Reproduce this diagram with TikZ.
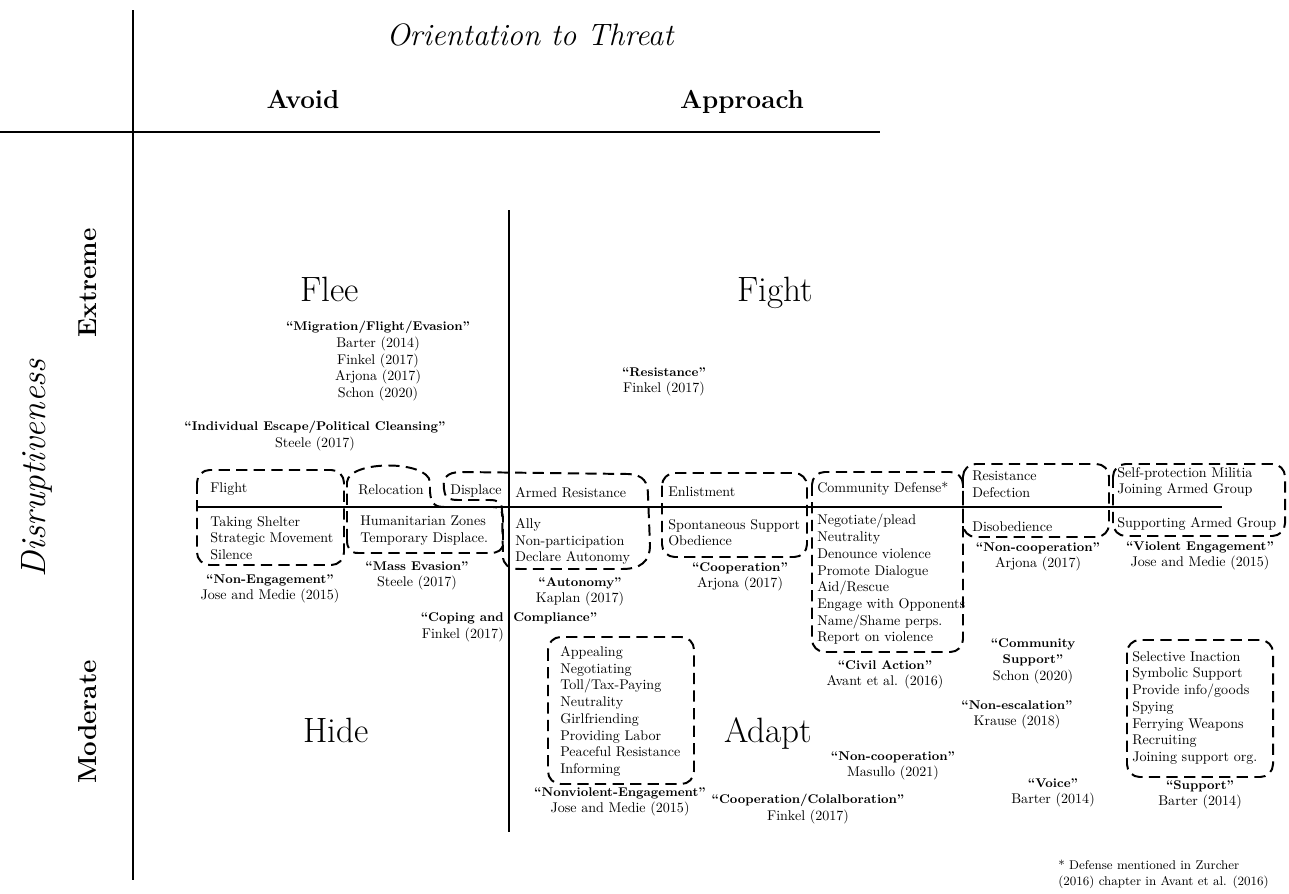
\documentclass[tikz,border=0pt]{standalone}
\newcommand{\bl}[1]{{\fontsize{9}{11.9}\selectfont\bfseries #1}}
\newcommand{\qlabel}[1]{\bl{“#1”}}
\begin{document}
\begin{tikzpicture}[
    x=0.025cm, y=-0.025cm,
    font=\fontsize{10}{11.9}\selectfont,
    % styles
    axis/.style={line width=1.5pt},
    split/.style={line width=0.8pt},
    dbox/.style={line width=1.4pt, dash pattern=on 8pt off 4.5pt, rounded corners=9pt},
    item/.style={align=left, anchor=north west, inner sep=0pt},
    cite/.style={align=center, anchor=north, inner sep=0pt},
    big/.style={font=\fontsize{25}{30}\selectfont, anchor=base, inner sep=0pt},
    head/.style={font=\fontsize{18.5}{22}\selectfont\bfseries, inner sep=0pt},
    axlabel/.style={font=\fontsize{22}{26}\selectfont\itshape, inner sep=0pt}
]
    \useasboundingbox (0,0) rectangle (1289,894);

    % ==========================================
    % AXES
    % ==========================================
    \coordinate (axT) at (133,10);
    \coordinate (axB) at (133,880);
    \coordinate (axL) at (0,132);
    \coordinate (axR) at (880,132);
    \draw[axis] (axT) -- (axB);
    \draw[axis] (axL) -- (axR);

    \node[axlabel, anchor=base] (orient) at (530,46) {Orientation to Threat};
    \node[head, anchor=base] (avoid) at (303,108) {Avoid};
    \node[head, anchor=base] (approach) at (742,108) {Approach};
    \node[axlabel, rotate=90, font=\fontsize{25}{30}\selectfont\itshape] (disrupt) at (37,468) {Disruptiveness};
    \node[head, rotate=90] (extreme) at (88,283) {Extreme};
    \node[head, rotate=90] (moderate) at (88,722) {Moderate};

    % ==========================================
    % QUADRANTS
    % ==========================================
    \coordinate (midT) at (509,210);
    \coordinate (midB) at (509,832);
    \coordinate (midL) at (198,507);
    \coordinate (midR) at (1222,507);
    \draw[split] (midT) -- (midB);
    \draw[split] (midL) -- (midR);

    \node[big] (flee) at (330,301) {Flee};
    \node[big] (fight) at (775,301) {Fight};
    \node[big] (hide) at (336,742) {Hide};
    \node[big] (adapt) at (768,742) {Adapt};

    % ==========================================
    % FLEE
    % ==========================================
    \node[cite] (migration) at (378,321) {\qlabel{Migration/Flight/Evasion}\\Barter (2014)\\Finkel (2017)\\Arjona (2017)\\Schon (2020)};
    \node[cite] (escape) at (315,421) {\qlabel{Individual Escape/Political Cleansing}\\Steele (2017)};

    \draw[dbox] (197,470) rectangle (344,565);
    \node[item] (flight) at (210,482) {Flight};
    \node[item] (flightlist) at (210,516) {Taking Shelter\\Strategic Movement\\Silence};
    \node[cite] (nonengage) at (270,574) {\qlabel{Non-Engagement}\\Jose and Medie (2015)};

    % Relocation (free shape)
    \draw[dbox, sharp corners] (347,540) -- (347,482) .. controls (349,460) and (428,460) .. (430,482)
        -- (430,492) .. controls (431,505) and (436,507) .. (445,507) -- (493,507)
        .. controls (501,507) and (503,512) .. (503,520) -- (503,543)
        .. controls (503,550) and (498,553) .. (490,553) -- (358,553)
        .. controls (350,553) and (347,548) .. (347,540) -- cycle;
    \node[item] (relocation) at (358,484) {Relocation};
    \node[item] (humzones) at (360,516) {Humanitarian Zones\\Temporary Displace.};
    \node[cite] (massev) at (417,561) {\qlabel{Mass Evasion}\\Steele (2017)};

    % ==========================================
    % FIGHT
    % ==========================================
    \node[cite] (resistance) at (664,367) {\qlabel{Resistance}\\Finkel (2017)};

    % Displace + Armed Resistance (free shape)
    \draw[dbox, sharp corners] (445,494) .. controls (441,478) and (446,472) .. (462,472) -- (628,474)
        .. controls (644,475) and (648,482) .. (648,496) -- (650,545)
        .. controls (650,562) and (640,569) .. (622,569) -- (520,569)
        .. controls (508,569) and (503,564) .. (503,556) -- (502,510)
        .. controls (502,503) and (498,500) .. (490,500) -- (458,500)
        .. controls (450,500) and (446,498) .. (445,494) -- cycle;
    \node[item] (displace) at (450,484) {Displace};
    \node[item] (armed) at (515,487) {Armed Resistance};
    \node[item] (armedlist) at (515,518) {Ally\\Non-participation\\Declare Autonomy};
    \node[cite] (autonomy) at (580,577) {\qlabel{Autonomy}\\Kaplan (2017)};

    \node[anchor=base east, inner sep=0pt] (copingA) at (504,621) {\bl{“Coping and}};
    \node[anchor=base west, inner sep=0pt] (copingB) at (513,621) {\bl{Compliance”}};
    \node[anchor=base east, inner sep=0pt] (copingcite) at (504,638) {Finkel (2017)};

    \draw[dbox] (662,473) rectangle (807,557);
    \node[item] (enlist) at (668,486) {Enlistment};
    \node[item] (enlistlist) at (668,519) {Spontaneous Support\\Obedience};
    \node[cite] (cooperation) at (740,562) {\qlabel{Cooperation}\\Arjona (2017)};

    \draw[dbox] (812,472) rectangle (963,652);
    \node[item] (commdef) at (817,482) {Community Defense*};
    \node[item] (commdeflist) at (817,514) {Negotiate/plead\\Neutrality\\Denounce violence\\Promote Dialogue\\Aid/Rescue\\Engage with Opponents\\Name/Shame perps.\\Report on violence};
    \node[cite] (civil) at (885,660) {\qlabel{Civil Action}\\Avant et al. (2016)};

    \draw[dbox] (963,464) rectangle (1109,537);
    \node[item] (resdef) at (972,471) {Resistance\\Defection};
    \node[item] (disob) at (972,521) {Disobedience};
    \node[cite] (noncoopA) at (1038,542) {\qlabel{Non-cooperation}\\Arjona (2017)};

    \draw[dbox] (1113,464) rectangle (1285,536);
    \node[item] (militia) at (1117,467) {Self-protection Militia\\Joining Armed Group};
    \node[item] (supparmed) at (1117,517) {Supporting Armed Group};
    \node[cite] (violent) at (1200,541) {\qlabel{Violent Engagement}\\Jose and Medie (2015)};

    % ==========================================
    % HIDE / ADAPT
    % ==========================================
    \draw[dbox] (548,637) rectangle (694,784);
    \node[item] (nonviolist) at (560,646) {Appealing\\Negotiating\\Toll/Tax-Paying\\Neutrality\\Girlfriending\\Providing Labor\\Peaceful Resistance\\Informing};
    \node[cite] (nonviolent) at (620,787) {\qlabel{Nonviolent-Engagement}\\Jose and Medie (2015)};

    \node[cite] (commsupport) at (1033,638) {\bl{“Community}\\\bl{Support”}\\Schon (2020)};
    \node[cite] (nonescal) at (1017,700) {\qlabel{Non-escalation}\\Krause (2018)};
    \node[cite] (noncoopB) at (893,751) {\qlabel{Non-cooperation}\\Masullo (2021)};
    \node[cite] (voice) at (1053,778) {\qlabel{Voice}\\Barter (2014)};
    \node[cite] (coopcollab) at (808,794) {\qlabel{Cooperation/Colalboration}\\Finkel (2017)};

    \draw[dbox] (1127,640) rectangle (1273,777);
    \node[item] (supportlist) at (1132,651) {Selective Inaction\\Symbolic Support\\Provide info/goods\\Spying\\Ferrying Weapons\\Recruiting\\Joining support org.};
    \node[cite] (support) at (1200,780) {\qlabel{Support}\\Barter (2014)};

    % footnote
    \node[item, font=\fontsize{9}{11.5}\selectfont] (footnote) at (1058,860) {* Defense mentioned in Zurcher\\(2016) chapter in Avant et al. (2016)};

\end{tikzpicture}
\end{document}
